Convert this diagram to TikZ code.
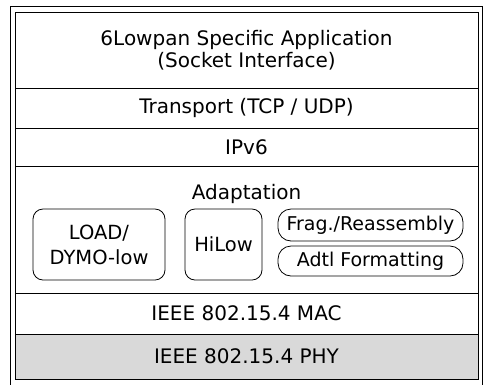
\documentclass[tikz,border=0pt]{standalone}
\usepackage{fontspec}
\setmainfont{DejaVu Sans}
\usetikzlibrary{positioning}

\begin{document}
\begin{tikzpicture}[x=1pt,y=-1pt,every node/.style={outer sep=0pt}]
\tikzstyle{layer}=[draw,thick,minimum width=463pt,inner sep=0pt,align=center,font=\fontsize{20}{22}\selectfont]
\tikzstyle{part}=[draw,thick,rounded corners=10pt,minimum height=71pt,inner sep=0pt,align=center,font=\fontsize{19.5}{25}\selectfont]
\tikzstyle{pill}=[draw,thick,rounded corners=13pt,minimum width=185pt,inner sep=0pt,font=\fontsize{19}{20}\selectfont]

\useasboundingbox (0,0) rectangle (486,384);

% outer frame
\draw[thick] (10,6) rectangle (482,388);

% the stack
\node (app) [layer, minimum height=76pt, anchor=north] at (246.5,12) {6Lowpan Specific Application\\(Socket Interface)};
\node (tp) [layer, minimum height=40pt, below=0pt of app] {Transport (TCP / UDP)};
\node (ip) [layer, minimum height=38pt, below=0pt of tp] {IPv6};
\node (ada) [layer, minimum height=127pt, below=0pt of ip] {};
\node (mac) [layer, minimum height=41pt, below=0pt of ada] {IEEE 802.15.4 MAC};
\node (phy) [layer, minimum height=45pt, fill=black!15, below=0pt of mac] {IEEE 802.15.4 PHY};

% adaptation sublayer
\node (adtext) [inner sep=0pt, below=18pt of ada.north, font=\fontsize{20}{22}\selectfont] {Adaptation};
\node (load) [part, minimum width=132pt] at (99,244.5) {LOAD/\\DYMO-low};
\node (hilow) [part, minimum width=77pt, right=20pt of load] {HiLow};
\node (frag) [pill, minimum height=32pt, right=16pt of hilow.north east, anchor=north west] {Frag./Reassembly};
\node (adtl) [pill, minimum height=30pt, below=5pt of frag] {Adtl Formatting};

\end{tikzpicture}
\end{document}
